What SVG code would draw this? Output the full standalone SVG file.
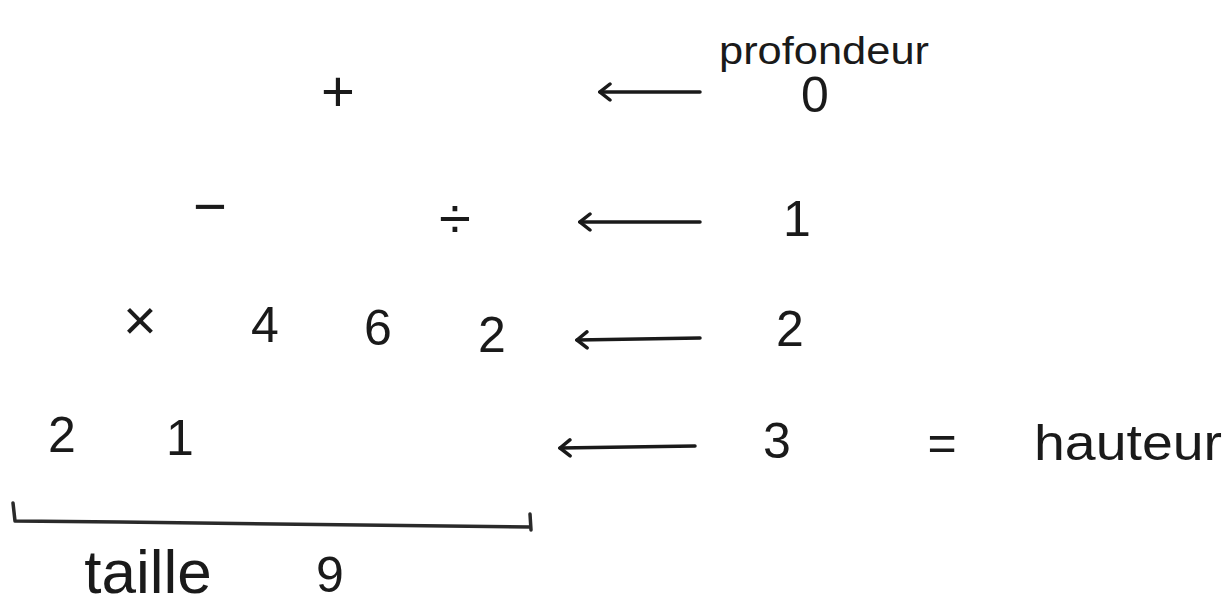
<svg xmlns="http://www.w3.org/2000/svg" width="1231" height="608" viewBox="0 0 1231 608">
<style>
.t{font-family:"Liberation Sans",Arial,sans-serif;fill:#1a1a1a;text-anchor:middle}
.sym{font-size:58px}
.lbl{font-size:50px}
.word{font-size:50px}
.small{font-size:38px}
.arr{stroke:#1a1a1a;stroke-width:3.5;fill:none;stroke-linecap:round;marker-start:url(#ah)}
.br{stroke:#2a2a2a;stroke-width:3.5;fill:none;stroke-linecap:round;stroke-linejoin:round}
</style>
<defs>
<marker id="ah" viewBox="0 0 20 20" refX="2" refY="10" markerWidth="20" markerHeight="20" markerUnits="userSpaceOnUse" orient="auto">
<path d="M12,2 L2,10 L12,18" fill="none" stroke="#1a1a1a" stroke-width="3.5" stroke-linecap="round"/>
</marker>
</defs>
<rect width="1231" height="608" fill="#ffffff"/>
<g id="node-plus"><text class="t sym" x="338" y="111">+</text></g>
<g id="node-minus"><text class="t sym" x="210" y="226">−</text></g>
<g id="node-div"><text class="t sym" x="455" y="238">÷</text></g>
<g id="node-times"><text class="t sym" x="140" y="340">×</text></g>
<g id="node-4"><text class="t lbl" x="265" y="342">4</text></g>
<g id="node-6"><text class="t lbl" x="378" y="345">6</text></g>
<g id="node-2a"><text class="t lbl" x="492" y="352">2</text></g>
<g id="node-2b"><text class="t lbl" x="62" y="452">2</text></g>
<g id="node-1"><text class="t lbl" x="180" y="455">1</text></g>
<g id="connectors">
<path class="arr" d="M600,92 L700,92"/>
<path class="arr" d="M580,222 L700,222"/>
<path class="arr" d="M577,340 L700,338"/>
<path class="arr" d="M560,448 L695,446"/>
</g>
<g id="depth-labels">
<text class="t small" x="824" y="64" textLength="210" lengthAdjust="spacingAndGlyphs">profondeur</text>
<text class="t lbl" x="815" y="112">0</text>
<text class="t lbl" x="797" y="236">1</text>
<text class="t lbl" x="790" y="346">2</text>
<text class="t lbl" x="777" y="458">3</text>
<text class="t lbl" x="942" y="460">=</text>
<text class="t word" x="1128" y="460" textLength="188" lengthAdjust="spacingAndGlyphs">hauteur</text>
</g>
<g id="size-bracket">
<path class="br" d="M13,503 L15,521 L120,522 L530,527 M530,514 L531,530"/>
<text class="t" style="font-size:62px" x="148" y="593">taille</text>
<text class="t lbl" x="330" y="592">9</text>
</g>
</svg>
